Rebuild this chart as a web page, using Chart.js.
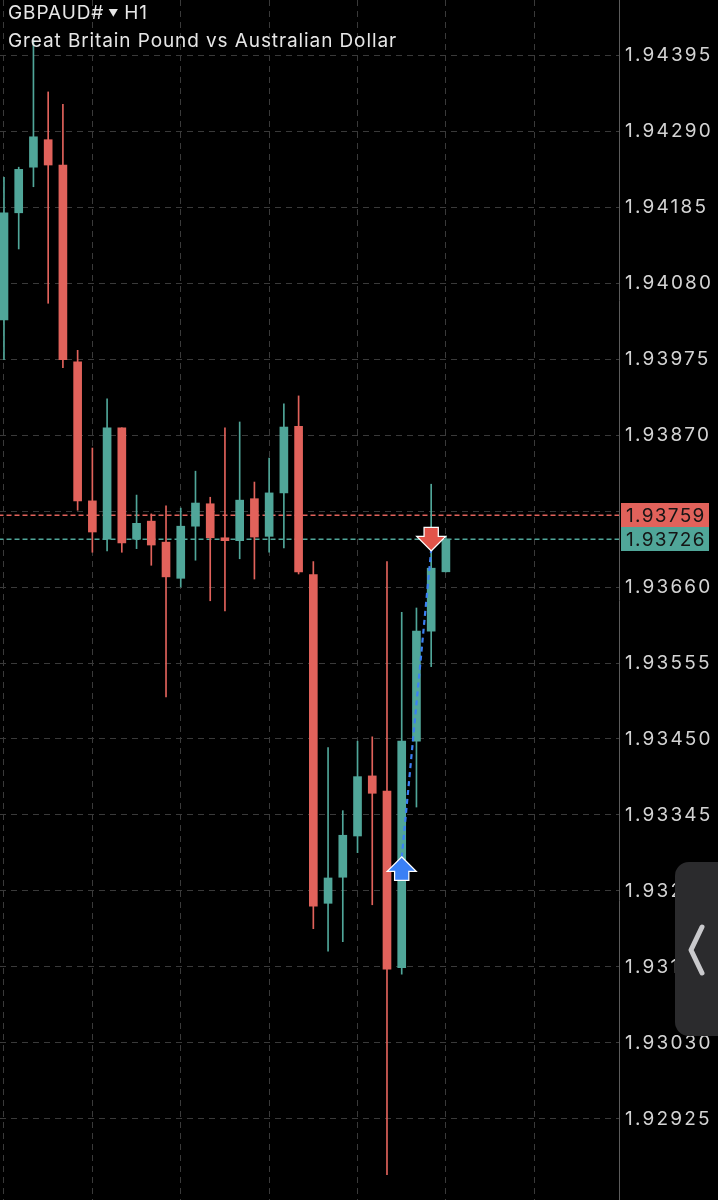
<!DOCTYPE html>
<html>
<head>
<meta charset="utf-8">
<script src="https://cdn.jsdelivr.net/npm/chart.js@4.4.1/dist/chart.umd.min.js"></script>
<style>
  html, body { margin:0; padding:0; background:#000; }
  #wrap { position:relative; width:718px; height:1200px; overflow:hidden; background:#000; }
  #title { position:absolute; left:8px; top:-1px; color:#e6e6e6; font-family:Inter, "Liberation Sans", sans-serif; font-size:19px; letter-spacing:0.9px; line-height:27px; white-space:nowrap; }
  #title .tri { font-size:10px; vertical-align:2px; margin:0 5px 0 4px; }
  #handle { position:absolute; left:675px; top:862px; width:70px; height:174px; background:#2b2b2d; border-radius:14px; }
  #handle svg { position:absolute; left:0; top:0; }
</style>
</head>
<body>
<div id="wrap">
  <canvas id="c" width="718" height="1200"></canvas>
  <div id="title">GBPAUD#<span class="tri">▼</span>H1<br>Great Britain Pound vs Australian Dollar</div>
  <div id="handle"><svg width="40" height="174"><polyline points="27,65 16,88 27,111" fill="none" stroke="#c9c9cc" stroke-width="5" stroke-linecap="round" stroke-linejoin="round"/></svg></div>
</div>
<script>
// ---- data (H1 candles, oldest -> newest) ----
const candleIndex = [0,1,2,3,4,5,6,7,8,9,10,11,12,13,14,15,16,17,18,19,20,21,22,23,24,25,26,27,28,29,30];
const opens  = [1.94029,1.94177,1.94240,1.94278,1.94243,1.93971,1.93779,1.93726,1.93880,1.93726,1.93751,1.93722,1.93672,1.93744,1.93775,1.93728,1.93724,1.93782,1.93730,1.93790,1.93882,1.93677,1.93223,1.93259,1.93316,1.93399,1.93378,1.93134,1.93447,1.93599,1.93681];
const highs  = [1.94226,1.94240,1.94416,1.94344,1.94327,1.93987,1.93852,1.93920,1.93880,1.93787,1.93761,1.93772,1.93769,1.93820,1.93784,1.93880,1.93888,1.93805,1.93838,1.93913,1.93924,1.93695,1.93438,1.93351,1.93447,1.93453,1.93695,1.93625,1.93631,1.93802,1.93730];
const lows   = [1.93974,1.94127,1.94213,1.94052,1.93963,1.93766,1.93708,1.93710,1.93708,1.93713,1.93690,1.93508,1.93660,1.93697,1.93641,1.93627,1.93699,1.93671,1.93708,1.93714,1.93678,1.93188,1.93157,1.93170,1.93293,1.93221,1.92848,1.93125,1.93356,1.93550,1.93681];
const closes = [1.94177,1.94237,1.94282,1.94243,1.93974,1.93779,1.93736,1.93880,1.93721,1.93748,1.93718,1.93674,1.93744,1.93776,1.93728,1.93724,1.93780,1.93729,1.93790,1.93881,1.93681,1.93219,1.93258,1.93317,1.93398,1.93375,1.93132,1.93447,1.93599,1.93686,1.93726];

const yTickValues = [1.94395,1.94290,1.94185,1.94080,1.93975,1.93870,1.93765,1.93660,1.93555,1.93450,1.93345,1.93240,1.93135,1.93030,1.92925];
const xGridAt = [0,6,12,18,24,30,36];

const askPrice = 1.93759;
const bidPrice = 1.93726;

const tradeX = [27, 29];
const tradePrice = [1.93286, 1.93711];

// ---- styles ----
const UP = '#50a699';
const DOWN = '#e1625b';
const GRID = '#3a3a3a';
const FONT = 'Inter, "Liberation Sans", sans-serif';
const TICK_SPACING = '2.2px';
const TICK_SIZE = 19;

const bodies = candleIndex.map((x, i) => ({ x, y: [opens[i], closes[i]] }));
const wicks = candleIndex.map((x, i) => ({ x, y: [lows[i], highs[i]] }));
const candleColor = candleIndex.map((x, i) => closes[i] >= opens[i] ? UP : DOWN);

const letterSpacingPlugin = {
  id: 'ls',
  beforeDraw(chart) { chart.ctx.letterSpacing = TICK_SPACING; },
  beforeDatasetsDraw(chart) { chart.ctx.letterSpacing = '0px'; }
};

function arrow(ctx, x, y, up, fill) {
  const d = up ? 1 : -1;
  ctx.save();
  ctx.beginPath();
  ctx.moveTo(x, y);
  ctx.lineTo(x + 13, y + d * 13);
  ctx.lineTo(x + 6.5, y + d * 13);
  ctx.lineTo(x + 6.5, y + d * 22);
  ctx.lineTo(x - 6.5, y + d * 22);
  ctx.lineTo(x - 6.5, y + d * 13);
  ctx.lineTo(x - 13, y + d * 13);
  ctx.closePath();
  ctx.lineJoin = 'miter';
  ctx.lineWidth = 2.5;
  ctx.strokeStyle = '#ffffff';
  ctx.stroke();
  ctx.fillStyle = fill;
  ctx.fill();
  ctx.restore();
}

const markersPlugin = {
  id: 'markers',
  afterDatasetsDraw(chart) {
    const xs = chart.scales.x, ys = chart.scales.y, ctx = chart.ctx;
    arrow(ctx, xs.getPixelForValue(tradeX[0]), ys.getPixelForValue(tradePrice[0]), true, '#3a80f5');
    arrow(ctx, xs.getPixelForValue(tradeX[1]), ys.getPixelForValue(tradePrice[1]), false, '#e2544a');
  },
  afterDraw(chart) {
    const ys = chart.scales.y, ctx = chart.ctx;
    const left = chart.chartArea.right + 2;
    [[askPrice, DOWN], [bidPrice, UP]].forEach(([p, col]) => {
      const py = ys.getPixelForValue(p);
      ctx.save();
      ctx.fillStyle = col;
      ctx.fillRect(left, Math.round(py) - 12, 88, 24);
      ctx.fillStyle = '#151515';
      ctx.font = TICK_SIZE + 'px ' + FONT;
      ctx.letterSpacing = '1.3px';
      ctx.textBaseline = 'middle';
      ctx.textAlign = 'left';
      ctx.fillText(p.toFixed(5), left + 5, py + 1);
      ctx.restore();
    });
  }
};

new Chart(document.getElementById('c'), {
  type: 'bar',
  data: {
    datasets: [
      { type: 'line', data: tradeX.map((x, i) => ({ x, y: tradePrice[i] })), borderColor: '#3b80f4', borderWidth: 2.2, borderDash: [5, 4], pointRadius: 0, order: 0 },
      { data: bodies, backgroundColor: candleColor, barThickness: 8, grouped: false, borderWidth: 0, order: 1 },
      { data: wicks, backgroundColor: candleColor, barThickness: 1, grouped: false, borderWidth: 0, order: 2 },
      { type: 'line', data: [{ x: -2, y: askPrice }, { x: 50, y: askPrice }], borderColor: DOWN, borderWidth: 1.5, borderDash: [5, 3], pointRadius: 0, order: 3 },
      { type: 'line', data: [{ x: -2, y: bidPrice }, { x: 50, y: bidPrice }], borderColor: UP, borderWidth: 1.5, borderDash: [5, 3], pointRadius: 0, order: 3 }
    ]
  },
  options: {
    responsive: false,
    animation: false,
    devicePixelRatio: 1,
    layout: { padding: 0 },
    plugins: { legend: { display: false }, tooltip: { enabled: false }, title: { display: false } },
    scales: {
      x: {
        type: 'linear',
        min: -0.27,
        max: 41.75,
        offset: false,
        afterBuildTicks(s) { s.ticks = xGridAt.map(v => ({ value: v })); },
        afterFit(s) { s.height = 0; s.paddingLeft = 0; s.paddingRight = 0; },
        ticks: { display: false },
        border: { display: false, dash: [6, 5] },
        grid: { color: GRID, lineWidth: 1, drawTicks: false, offset: false }
      },
      y: {
        position: 'right',
        min: 1.9281309,
        max: 1.9447099,
        afterBuildTicks(s) { s.ticks = yTickValues.map(v => ({ value: v })); },
        afterFit(s) { s.width = 99; s.paddingTop = 0; s.paddingBottom = 0; },
        ticks: {
          autoSkip: false,
          padding: 6,
          color: '#d4d4d4',
          font: { family: FONT, size: TICK_SIZE },
          callback: v => Number(v).toFixed(5)
        },
        border: { display: true, color: '#5c5c5c', width: 1, dash: [6, 5] },
        grid: { color: GRID, lineWidth: 1, drawTicks: false }
      }
    }
  },
  plugins: [letterSpacingPlugin, markersPlugin]
});
</script>
</body>
</html>
